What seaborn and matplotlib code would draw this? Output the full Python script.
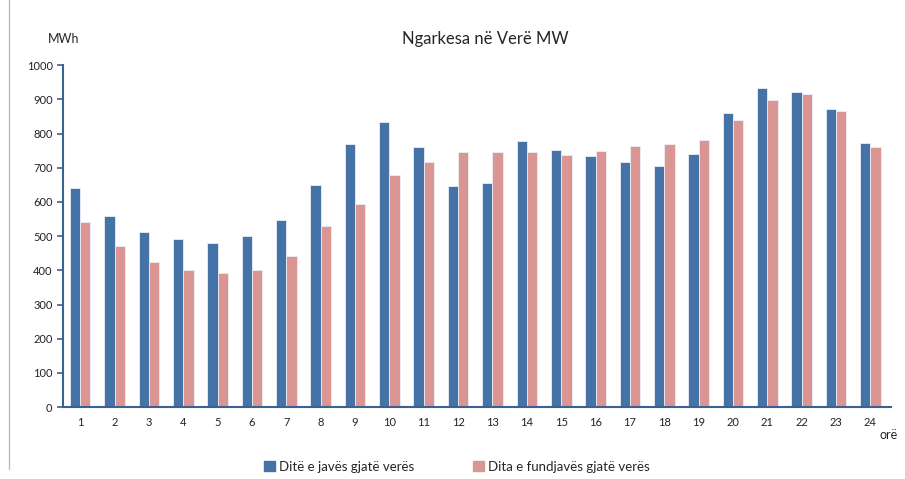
import numpy as np
import pandas as pd
import matplotlib.pyplot as plt
from matplotlib.lines import Line2D
import seaborn as sns

sns.set_style("white")
plt.rcParams["font.family"] = ["Lato", "DejaVu Sans"]

hours = [str(h) for h in range(1, 25)]
weekday = [640, 560, 511, 492, 481, 500, 547, 651, 768, 833, 760, 648,
           656, 779, 751, 733, 716, 705, 741, 860, 932, 922, 872, 771]
weekend = [542, 472, 424, 402, 391, 402, 443, 530, 593, 678, 716, 745,
           745, 747, 736, 750, 763, 768, 780, 839, 897, 916, 865, 760]
series_names = ["Ditë e javës gjatë verës", "Dita e fundjavës gjatë verës"]
colors = ["#4572A7", "#DB9694"]

df = pd.DataFrame({
    "ora": hours * 2,
    "MWh": weekday + weekend,
    "seria": [series_names[0]] * 24 + [series_names[1]] * 24,
})

fig = plt.figure(figsize=(9.05, 4.79), dpi=100)
ax = fig.add_axes([0.0696, 0.150, 0.915, 0.714])

sns.barplot(data=df, x="ora", y="MWh", hue="seria", palette=colors, saturation=1,
            width=0.6, edgecolor="#E8EEF6", linewidth=0.6, ax=ax, legend=False)

axis_col = "#3A6190"
ax.set_ylim(0, 1000)
ax.set_xlim(-0.5, 23.6)
ax.set_yticks(range(0, 1001, 100))
ax.set_xticks(range(24))
ax.set_xticklabels(hours)
ax.set_xticks(np.arange(-0.5, 24, 1), minor=True)
ax.tick_params(axis="x", which="major", length=0, labelsize=8, pad=7, colors="#222222")
ax.tick_params(axis="x", which="minor", length=4, width=1.2, color=axis_col, direction="out")
ax.tick_params(axis="y", length=4, width=1.2, color=axis_col, direction="out",
               labelsize=8, labelcolor="#222222", left=True)
ax.set_xlabel("")
ax.set_ylabel("")
for s in ["top", "right"]:
    ax.spines[s].set_visible(False)
for s in ["left", "bottom"]:
    ax.spines[s].set_color(axis_col)
    ax.spines[s].set_linewidth(1.5)

fig.text(0.536, 0.918, "Ngarkesa në Verë MW", ha="center", va="center", fontsize=12)
fig.text(0.070, 0.918, "MWh", ha="center", va="center", fontsize=9)
fig.text(0.972, 0.092, "orë", ha="left", va="center", fontsize=9)

handles = [plt.Rectangle((0, 0), 1, 1, color=c) for c in colors]
fig.legend(handles, series_names, loc="center", bbox_to_anchor=(0.505, 0.025), ncol=2,
           frameon=False, fontsize=9.5, handlelength=0.8, handleheight=0.8,
           handletextpad=0.3, columnspacing=4.5)

fig.add_artist(Line2D([0.01, 0.01], [0.02, 1.0], color="#BBBBBB", linewidth=1))

fig.savefig("out.png", dpi=100)
